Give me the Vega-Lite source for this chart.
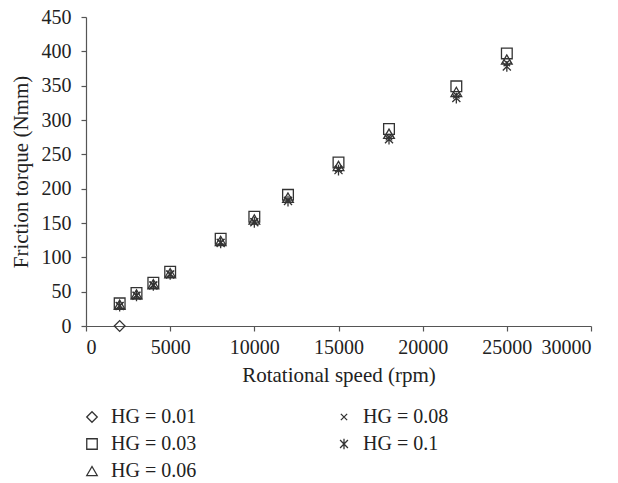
{
  "$schema": "https://vega.github.io/schema/vega-lite/v6.json",
  "width": 505,
  "height": 309,
  "autosize": {"type": "none"},
  "padding": {"left": 86, "top": 17, "right": 27, "bottom": 157},
  "background": "white",
  "config": {
    "view": {"stroke": null},
    "font": "Liberation Serif",
    "axis": {"grid": false, "domainColor": "#555", "tickColor": "#555", "labelColor": "#222", "titleColor": "#222", "labelFont": "Liberation Serif", "titleFont": "Liberation Serif", "labelFontSize": 20, "titleFontSize": 21, "titleFontWeight": "normal", "tickSize": 5, "domainWidth": 1.2, "tickWidth": 1.2}
  },
  "data": {
    "values": [
      {"speed": 2000, "torque": 0, "hg": "HG = 0.01"},
      {"speed": 2000, "torque": 33, "hg": "HG = 0.03"},
      {"speed": 3000, "torque": 48, "hg": "HG = 0.03"},
      {"speed": 4000, "torque": 63, "hg": "HG = 0.03"},
      {"speed": 5000, "torque": 79, "hg": "HG = 0.03"},
      {"speed": 8000, "torque": 127, "hg": "HG = 0.03"},
      {"speed": 10000, "torque": 159, "hg": "HG = 0.03"},
      {"speed": 12000, "torque": 191, "hg": "HG = 0.03"},
      {"speed": 15000, "torque": 238, "hg": "HG = 0.03"},
      {"speed": 18000, "torque": 287, "hg": "HG = 0.03"},
      {"speed": 22000, "torque": 349, "hg": "HG = 0.03"},
      {"speed": 25000, "torque": 397, "hg": "HG = 0.03"},
      {"speed": 2000, "torque": 31, "hg": "HG = 0.06"},
      {"speed": 3000, "torque": 46, "hg": "HG = 0.06"},
      {"speed": 4000, "torque": 61, "hg": "HG = 0.06"},
      {"speed": 5000, "torque": 77, "hg": "HG = 0.06"},
      {"speed": 8000, "torque": 124, "hg": "HG = 0.06"},
      {"speed": 10000, "torque": 155, "hg": "HG = 0.06"},
      {"speed": 12000, "torque": 187, "hg": "HG = 0.06"},
      {"speed": 15000, "torque": 233, "hg": "HG = 0.06"},
      {"speed": 18000, "torque": 280, "hg": "HG = 0.06"},
      {"speed": 22000, "torque": 341, "hg": "HG = 0.06"},
      {"speed": 25000, "torque": 388, "hg": "HG = 0.06"},
      {"speed": 2000, "torque": 30, "hg": "HG = 0.08"},
      {"speed": 3000, "torque": 45, "hg": "HG = 0.08"},
      {"speed": 4000, "torque": 60, "hg": "HG = 0.08"},
      {"speed": 5000, "torque": 76, "hg": "HG = 0.08"},
      {"speed": 8000, "torque": 122, "hg": "HG = 0.08"},
      {"speed": 10000, "torque": 152, "hg": "HG = 0.08"},
      {"speed": 12000, "torque": 184, "hg": "HG = 0.08"},
      {"speed": 15000, "torque": 229, "hg": "HG = 0.08"},
      {"speed": 18000, "torque": 275, "hg": "HG = 0.08"},
      {"speed": 22000, "torque": 336, "hg": "HG = 0.08"},
      {"speed": 25000, "torque": 383, "hg": "HG = 0.08"},
      {"speed": 2000, "torque": 29, "hg": "HG = 0.1"},
      {"speed": 3000, "torque": 44, "hg": "HG = 0.1"},
      {"speed": 4000, "torque": 59, "hg": "HG = 0.1"},
      {"speed": 5000, "torque": 75, "hg": "HG = 0.1"},
      {"speed": 8000, "torque": 121, "hg": "HG = 0.1"},
      {"speed": 10000, "torque": 151, "hg": "HG = 0.1"},
      {"speed": 12000, "torque": 182, "hg": "HG = 0.1"},
      {"speed": 15000, "torque": 227, "hg": "HG = 0.1"},
      {"speed": 18000, "torque": 272, "hg": "HG = 0.1"},
      {"speed": 22000, "torque": 332, "hg": "HG = 0.1"},
      {"speed": 25000, "torque": 378, "hg": "HG = 0.1"}
    ]
  },
  "mark": {"type": "point", "filled": false, "color": "#333", "strokeWidth": 1.3, "size": 115, "opacity": 1},
  "encoding": {
    "x": {"field": "speed", "type": "quantitative", "title": "Rotational speed (rpm)", "scale": {"domain": [0, 30000], "nice": false}, "axis": {"values": [0, 5000, 10000, 15000, 20000, 25000, 30000], "format": "d", "labelPadding": 6, "titlePadding": 7}},
    "y": {"field": "torque", "type": "quantitative", "title": "Friction torque (Nmm)", "scale": {"domain": [0, 450], "nice": false}, "axis": {"values": [0, 50, 100, 150, 200, 250, 300, 350, 400, 450], "labelPadding": 10, "titlePadding": 10}},
    "shape": {
      "field": "hg", "type": "nominal", "title": null,
      "scale": {
        "domain": ["HG = 0.01", "HG = 0.03", "HG = 0.06", "HG = 0.08", "HG = 0.1"],
        "range": ["diamond", "square", "triangle-up", "M-0.6,-0.6L0.6,0.6M-0.6,0.6L0.6,-0.6", "M-0.75,-0.75L0.75,0.75M-0.75,0.75L0.75,-0.75M0,-1L0,1"]
      },
      "legend": {"orient": "none", "legendX": -4, "legendY": 390, "columns": 2, "columnPadding": 137, "rowPadding": 7, "labelFont": "Liberation Serif", "labelFontSize": 20, "labelColor": "#222", "symbolSize": 110, "symbolStrokeColor": "#333", "symbolStrokeWidth": 1.3, "labelOffset": 9, "symbolFillColor": "transparent"}
    }
  }
}
